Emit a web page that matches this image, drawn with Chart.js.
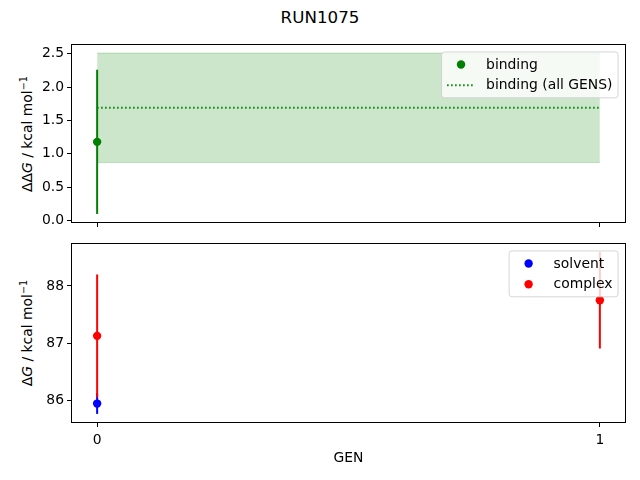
<!DOCTYPE html>
<html>
<head>
<meta charset="utf-8">
<script src="https://cdn.jsdelivr.net/npm/chart.js@4.4.0/dist/chart.umd.min.js"></script>
<style>
  html, body { margin: 0; padding: 0; background: #fff; }
  #fig { position: relative; width: 640px; height: 480px; font-family: 'DejaVu Sans', sans-serif; color: #000; }
  .panel { position: absolute; left: 0; width: 640px; }
  #title { position: absolute; left: 0; top: 7px; width: 640px; text-align: center; font-size: 16.7px; }
  .ylab { position: absolute; white-space: nowrap; font-size: 13.9px; transform: translate(-50%, -50%) rotate(-90deg); }
  .ylab sup { font-size: 9.7px; vertical-align: 0.5em; line-height: 0; }
</style>
</head>
<body>
<div id="fig">
  <div id="title">RUN1075</div>
  <div class="ylab" style="left:27px; top:134px">ΔΔ<i>G</i> / kcal mol<sup>−1</sup></div>
  <div class="ylab" style="left:27px; top:333px">Δ<i>G</i> / kcal mol<sup>−1</sup></div>
  <div class="panel" style="top:0; height:232px"><canvas id="topChart"></canvas></div>
  <div class="panel" style="top:232px; height:248px"><canvas id="bottomChart"></canvas></div>
</div>
<script>
// ── Data ──────────────────────────────────────────────────────
const genTicks = [0, 1];

const bindingGens = [0];
const bindingValues = [1.18];
const bindingErrors = [1.08];
const bindingAllValue = 1.69;
const bindingAllError = 0.82;

const solventGens = [0];
const solventValues = [85.95];
const solventErrors = [0.18];

const complexGens = [0, 1];
const complexValues = [87.13, 87.75];
const complexErrors = [1.07, 0.84];

const topTicks = [0, 0.5, 1, 1.5, 2, 2.5];
const bottomTicks = [86, 87, 88];

const FONT = "'DejaVu Sans', sans-serif";
const FS = 13.9;
const GREEN = '#008000', BLUE = '#0000ff', RED = '#ff0000';

// ── Helpers ───────────────────────────────────────────────────

// matplotlib-style autoscale: 5% margin around the data extent
function padRange(lo, hi) {
  const m = (hi - lo) * 0.05;
  return [lo - m, hi + m];
}

function points(xs, ys, color, label) {
  return {
    label, type: 'line', showLine: false, order: 1,
    data: xs.map((x, i) => ({ x, y: ys[i] })),
    pointRadius: 4.2, pointHoverRadius: 4.2,
    pointBackgroundColor: color, pointBorderColor: color, pointBorderWidth: 0,
  };
}

function errorBars(xs, ys, errs, color) {
  return xs.map((x, i) => ({
    type: 'line', order: 2, pointRadius: 0,
    data: [{ x, y: ys[i] - errs[i] }, { x, y: ys[i] + errs[i] }],
    borderColor: color, borderWidth: 2, borderCapStyle: 'butt',
  }));
}

const framePlugin = {
  id: 'frame',
  afterDatasetsDraw(chart) {
    const { ctx, chartArea: a } = chart;
    ctx.save();
    ctx.strokeStyle = '#000';
    ctx.lineWidth = 1;
    ctx.strokeRect(Math.round(a.left) - 0.5, Math.round(a.top) - 0.5,
      Math.round(a.right - a.left) + 1, Math.round(a.bottom - a.top) + 1);
    ctx.restore();
  }
};

const boxLegend = {
  id: 'boxLegend',
  afterDraw(chart, args, opts) {
    const items = opts.items || [];
    if (!items.length) return;
    const { ctx, chartArea: a } = chart;
    const pad = 0.4 * FS, handle = 2 * FS, gap = 0.8 * FS, rowH = FS, spacing = 0.5 * FS;
    ctx.save();
    ctx.font = FS + 'px ' + FONT;
    const textW = Math.max(...items.map(it => ctx.measureText(it.label).width));
    const w = pad + handle + gap + textW + pad;
    const h = 2 * pad + rowH * items.length + spacing * (items.length - 1);
    const x = a.right - 0.5 * FS - w, y = a.top + 0.5 * FS;

    ctx.beginPath();
    ctx.roundRect(x, y, w, h, 0.2 * FS);
    ctx.fillStyle = 'rgba(255,255,255,0.8)';
    ctx.fill();
    ctx.strokeStyle = 'rgba(204,204,204,0.8)';
    ctx.lineWidth = 1;
    ctx.stroke();

    items.forEach((it, i) => {
      const cy = y + pad + rowH / 2 + i * (rowH + spacing);
      const hx = x + pad;
      if (it.kind === 'dots') {
        ctx.beginPath();
        ctx.setLineDash([1.5, 2.5]);
        ctx.strokeStyle = it.color;
        ctx.lineWidth = 2;
        ctx.moveTo(hx, cy);
        ctx.lineTo(hx + handle, cy);
        ctx.stroke();
        ctx.setLineDash([]);
      } else {
        ctx.beginPath();
        ctx.arc(hx + handle / 2, cy, 4.2, 0, Math.PI * 2);
        ctx.fillStyle = it.color;
        ctx.fill();
      }
      ctx.fillStyle = '#000';
      ctx.textBaseline = 'middle';
      ctx.textAlign = 'left';
      ctx.fillText(it.label, hx + handle + gap, cy + 0.5);
    });
    ctx.restore();
  }
};

function makeChart(canvasId, datasets, yTicks, yRange, cfg) {
  const ctx = document.getElementById(canvasId).getContext('2d');
  return new Chart(ctx, {
    type: 'line',
    data: { datasets },
    options: {
      responsive: true,
      maintainAspectRatio: false,
      animation: false,
      events: [],
      layout: { padding: { top: cfg.padTop, right: 15, left: 0, bottom: 0 } },
      plugins: {
        legend: { display: false },
        tooltip: { enabled: false },
        boxLegend: { items: cfg.legend },
      },
      scales: {
        x: {
          type: 'linear',
          min: -0.05, max: 1.05,
          afterBuildTicks: s => { s.ticks = genTicks.map(v => ({ value: v })); },
          afterFit: s => { s.height = cfg.xHeight; s.paddingLeft = 0; s.paddingRight = 0; },
          border: { display: false },
          grid: { drawOnChartArea: false, drawTicks: true, tickLength: 5, color: '#000' },
          ticks: {
            color: '#000', padding: 5, maxRotation: 0,
            font: { size: FS, family: FONT },
            callback: v => cfg.xLabels ? String(v) : '',
          },
          title: cfg.xTitle ? {
            display: true, text: cfg.xTitle, color: '#000',
            font: { size: FS, family: FONT },
            padding: { top: 0, bottom: 13.5 },
          } : { display: false },
        },
        y: {
          min: yRange[0], max: yRange[1],
          afterBuildTicks: s => { s.ticks = yTicks.map(v => ({ value: v })); },
          afterFit: s => { s.width = 72; s.paddingTop = 0; s.paddingBottom = 0; },
          border: { display: false },
          grid: { drawOnChartArea: false, drawTicks: true, tickLength: 5, color: '#000' },
          ticks: {
            color: '#000', padding: 3,
            font: { size: FS, family: FONT },
            callback: v => cfg.yFormat(v),
          },
        },
      },
    },
    plugins: [framePlugin, boxLegend],
  });
}

// ── Top panel: binding free energy ───────────────────────────

const topRange = padRange(
  Math.min(...bindingValues.map((v, i) => v - bindingErrors[i]), bindingAllValue - bindingAllError),
  Math.max(...bindingValues.map((v, i) => v + bindingErrors[i]), bindingAllValue + bindingAllError)
);
const span = [genTicks[0], genTicks[genTicks.length - 1]];

const topDatasets = [
  {
    type: 'line', order: 5, pointRadius: 0,
    data: span.map(x => ({ x, y: bindingAllValue + bindingAllError })),
    borderColor: 'rgba(0,128,0,0.2)', borderWidth: 1,
    backgroundColor: 'rgba(0,128,0,0.2)', fill: '+1',
  },
  {
    type: 'line', order: 5, pointRadius: 0,
    data: span.map(x => ({ x, y: bindingAllValue - bindingAllError })),
    borderColor: 'rgba(0,128,0,0.2)', borderWidth: 1, fill: false,
  },
  {
    type: 'line', order: 4, pointRadius: 0,
    data: span.map(x => ({ x, y: bindingAllValue })),
    borderColor: GREEN, borderWidth: 2, borderDash: [1.5, 2.5], fill: false,
  },
  ...errorBars(bindingGens, bindingValues, bindingErrors, GREEN),
  points(bindingGens, bindingValues, GREEN, 'binding'),
];

makeChart('topChart', topDatasets, topTicks, topRange, {
  padTop: 45, xHeight: 10, xLabels: false,
  yFormat: v => v.toFixed(1),
  legend: [
    { label: 'binding', kind: 'dot', color: GREEN },
    { label: 'binding (all GENS)', kind: 'dots', color: GREEN },
  ],
});

// ── Bottom panel: solvent / complex legs ─────────────────────

const lows = solventValues.map((v, i) => v - solventErrors[i])
  .concat(complexValues.map((v, i) => v - complexErrors[i]));
const highs = solventValues.map((v, i) => v + solventErrors[i])
  .concat(complexValues.map((v, i) => v + complexErrors[i]));
const bottomRange = padRange(Math.min(...lows), Math.max(...highs));

const bottomDatasets = [
  ...errorBars(solventGens, solventValues, solventErrors, BLUE).map(d => ({ ...d, order: 4 })),
  { ...points(solventGens, solventValues, BLUE, 'solvent'), order: 3 },
  ...errorBars(complexGens, complexValues, complexErrors, RED),
  points(complexGens, complexValues, RED, 'complex'),
];

makeChart('bottomChart', bottomDatasets, bottomTicks, bottomRange, {
  padTop: 12, xHeight: 58, xLabels: true, xTitle: 'GEN',
  yFormat: v => String(v),
  legend: [
    { label: 'solvent', kind: 'dot', color: BLUE },
    { label: 'complex', kind: 'dot', color: RED },
  ],
});
</script>
</body>
</html>
